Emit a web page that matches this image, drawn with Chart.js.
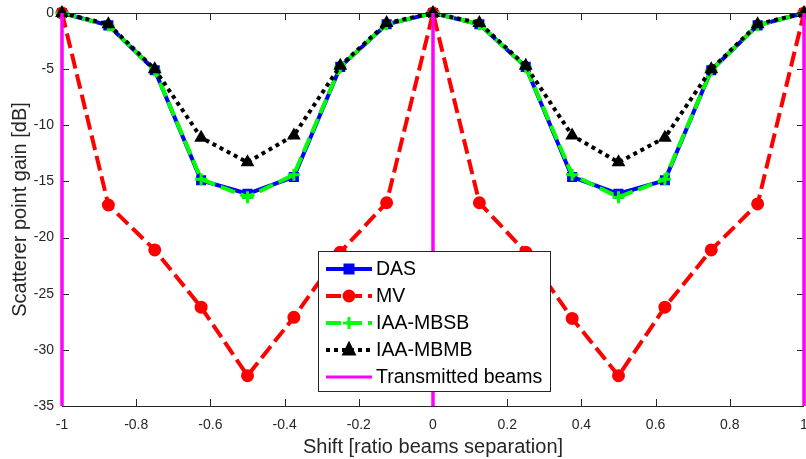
<!DOCTYPE html>
<html>
<head>
<meta charset="utf-8">
<script src="https://cdn.jsdelivr.net/npm/chart.js@4"></script>
<style>
html, body { margin: 0; padding: 0; background: #fff; }
</style>
</head>
<body>
<canvas id="graph" width="806" height="459"></canvas>
<script>
// shift positions (ratio of beam separation)
var shift = [-1, -0.875, -0.75, -0.625, -0.5, -0.375, -0.25, -0.125, 0,
             0.125, 0.25, 0.375, 0.5, 0.625, 0.75, 0.875, 1];

// scatterer point gain in dB
var das      = [0, -1.1, -5.1, -14.9, -16.1, -14.6, -4.8, -1.0, 0,
                -1.0, -4.8, -14.6, -16.1, -14.9, -5.1, -1.1, 0];
var mv       = [0, -17.1, -21.1, -26.2, -32.3, -27.1, -21.3, -16.9, 0,
                -16.9, -21.3, -27.2, -32.3, -26.2, -21.1, -17.0, 0];
var iaaMbsb  = [0, -1.1, -5.1, -14.8, -16.4, -14.4, -4.8, -1.0, 0,
                -1.0, -4.8, -14.4, -16.4, -14.8, -5.1, -1.1, 0];
var iaaMbmb  = [0, -1.0, -5.0, -11.1, -13.3, -10.9, -4.7, -0.9, 0,
                -0.9, -4.7, -10.9, -13.3, -11.1, -5.0, -1.0, 0];

// transmitted beam positions
var beams = [-1, 0, 1];

var xTicks = [-1, -0.8, -0.6, -0.4, -0.2, 0, 0.2, 0.4, 0.6, 0.8, 1];
var yTicks = [-35, -30, -25, -20, -15, -10, -5, 0];

var FONT = 'Liberation Sans, Arial, Helvetica, sans-serif';
var INK = '#262626';

function pts(ys) {
    return shift.map(function (x, i) { return {x: x, y: ys[i]}; });
}

function beamPts() {
    var out = [];
    beams.forEach(function (b, i) {
        if (i > 0) out.push({x: b, y: null});
        out.push({x: b, y: 0});
        out.push({x: b, y: -35});
    });
    return out;
}

var series = [
    {label: 'DAS', data: pts(das), color: '#0000ff', dash: [], marker: 'rect', order: 5},
    {label: 'MV', data: pts(mv), color: '#ff0000', dash: [15, 6], marker: 'circle', order: 4},
    {label: 'IAA-MBSB', data: pts(iaaMbsb), color: '#00ff00', dash: [15, 6], marker: 'cross', order: 3},
    {label: 'IAA-MBMB', data: pts(iaaMbmb), color: '#000000', dash: [4, 4], marker: 'triangle', order: 2},
    {label: 'Transmitted beams', data: beamPts(), color: '#ff00ff', dash: [], marker: null, order: 1}
];

var datasets = series.map(function (s) {
    return {
        label: s.label,
        data: s.data,
        showLine: true,
        spanGaps: false,
        clip: false,
        borderColor: s.color,
        borderWidth: s.marker ? 4 : 3,
        borderDash: s.dash,
        pointStyle: s.marker || 'circle',
        pointRadius: s.marker ? (s.marker == 'cross' ? 6 : 5) : 0,
        pointBorderWidth: 3,
        pointBorderColor: s.color,
        pointBackgroundColor: s.color,
        order: s.order
    };
});

function drawMarker(ctx, style, x, y, color) {
    ctx.save();
    ctx.setLineDash([]);
    ctx.lineWidth = 3;
    ctx.strokeStyle = color;
    ctx.fillStyle = color;
    ctx.beginPath();
    if (style == 'rect') {
        ctx.rect(x - 4, y - 4, 8, 8);
        ctx.fill();
        ctx.stroke();
    } else if (style == 'circle') {
        ctx.arc(x, y, 5, 0, Math.PI * 2);
        ctx.fill();
        ctx.stroke();
    } else if (style == 'cross') {
        ctx.moveTo(x - 6, y); ctx.lineTo(x + 6, y);
        ctx.moveTo(x, y - 6); ctx.lineTo(x, y + 6);
        ctx.stroke();
    } else if (style == 'triangle') {
        ctx.moveTo(x, y - 6); ctx.lineTo(x + 5, y + 4); ctx.lineTo(x - 5, y + 4);
        ctx.closePath();
        ctx.fill();
        ctx.stroke();
    }
    ctx.restore();
}

// axes box with inward ticks, plus the boxed legend
var matlabAxes = {
    id: 'matlabAxes',
    afterDraw: function (chart) {
        var ctx = chart.ctx;
        var a = chart.chartArea;
        var xs = chart.scales.x, ys = chart.scales.y;
        ctx.save();
        ctx.strokeStyle = INK;
        ctx.lineWidth = 1;
        ctx.beginPath();
        ctx.moveTo(a.left, a.top + 0.5); ctx.lineTo(a.right, a.top + 0.5);
        ctx.moveTo(a.left, a.bottom + 0.5); ctx.lineTo(a.right, a.bottom + 0.5);
        xTicks.forEach(function (t) {
            var px = Math.round(xs.getPixelForValue(t)) + 0.5;
            ctx.moveTo(px, a.bottom); ctx.lineTo(px, a.bottom - 7);
            ctx.moveTo(px, a.top); ctx.lineTo(px, a.top + 7);
        });
        yTicks.forEach(function (t) {
            var py = Math.round(ys.getPixelForValue(t)) + 0.5;
            ctx.moveTo(a.left, py); ctx.lineTo(a.left + 7, py);
            ctx.moveTo(a.right, py); ctx.lineTo(a.right - 7, py);
        });
        ctx.stroke();
        ctx.restore();

        // redraw beam lines over the box
        ctx.save();
        ctx.strokeStyle = '#ff00ff';
        ctx.lineWidth = 3;
        ctx.beginPath();
        beams.forEach(function (b) {
            var px = xs.getPixelForValue(b);
            ctx.moveTo(px, ys.getPixelForValue(0));
            ctx.lineTo(px, ys.getPixelForValue(-35));
        });
        ctx.stroke();
        ctx.restore();

        // legend
        var lx = 318, ly = 251, lw = 232, lh = 140;
        ctx.save();
        ctx.fillStyle = '#ffffff';
        ctx.fillRect(lx, ly, lw, lh);
        ctx.strokeStyle = INK;
        ctx.lineWidth = 1;
        ctx.strokeRect(lx + 0.5, ly + 0.5, lw, lh);
        ctx.font = '19.5px ' + FONT;
        ctx.textBaseline = 'middle';
        ctx.fillStyle = '#000000';
        series.forEach(function (s, i) {
            var y = ly + 18 + i * 27;
            ctx.save();
            ctx.strokeStyle = s.color;
            ctx.lineWidth = s.marker ? 4 : 3;
            ctx.setLineDash(s.dash);
            ctx.beginPath();
            ctx.moveTo(lx + 8, y);
            ctx.lineTo(lx + 54, y);
            ctx.stroke();
            ctx.restore();
            if (s.marker) drawMarker(ctx, s.marker, lx + 31, y, s.color);
            ctx.fillText(s.label, lx + 58, y + 1);
        });
        ctx.restore();
    }
};

var chart_context = document.getElementById('graph').getContext('2d');
var chart = new Chart(chart_context, {
    type: 'scatter',
    data: { datasets: datasets },
    options: {
        responsive: false,
        animation: false,
        devicePixelRatio: 1,
        layout: { autoPadding: false, padding: { top: 13, right: 2, left: 0, bottom: 0 } },
        plugins: {
            legend: { display: false },
            tooltip: { enabled: false }
        },
        scales: {
            x: {
                type: 'linear',
                min: -1, max: 1,
                afterBuildTicks: function (scale) {
                    scale.ticks = xTicks.map(function (v) { return {value: v}; });
                },
                afterFit: function (scale) {
                    scale.height = 53;
                    scale.paddingLeft = 0;
                    scale.paddingRight = 0;
                },
                grid: { display: false },
                border: { display: false },
                ticks: {
                    padding: 3,
                    color: INK,
                    font: { family: FONT, size: 14 },
                    maxRotation: 0,
                    callback: function (v) { return String(Math.round(v * 10) / 10); }
                },
                title: {
                    display: true,
                    text: 'Shift [ratio beams separation]',
                    color: INK,
                    font: { family: FONT, size: 20 },
                    padding: { top: 0, bottom: 0 }
                }
            },
            y: {
                min: -35, max: 0,
                afterBuildTicks: function (scale) {
                    scale.ticks = yTicks.map(function (v) { return {value: v}; });
                },
                afterFit: function (scale) { scale.width = 62; },
                grid: { display: false },
                border: { display: false },
                ticks: {
                    padding: 0,
                    color: INK,
                    font: { family: FONT, size: 14 },
                    callback: function (v) { return String(v); }
                },
                title: {
                    display: true,
                    text: 'Scatterer point gain [dB]',
                    color: INK,
                    font: { family: FONT, size: 20 },
                    padding: { top: 8, bottom: 0 }
                }
            }
        }
    },
    plugins: [matlabAxes]
});
</script>
</body>
</html>
